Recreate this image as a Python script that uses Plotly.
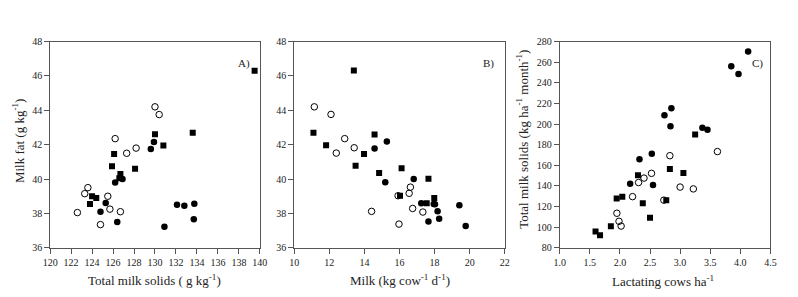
import plotly.graph_objects as go

# ---------------- data ----------------
# Panel A: total milk solids (g/kg) vs milk fat (g/kg)
a_sq_x = [139.5, 130.0, 133.6, 130.8, 126.1, 125.9, 126.7, 128.1, 124.0, 124.4, 123.8, 126.6]
a_sq_y = [46.3, 42.6, 42.7, 41.95, 41.45, 40.75, 40.3, 40.6, 39.0, 38.9, 38.55, 40.05]
a_fc_x = [129.9, 129.6, 126.2, 126.9, 125.3, 124.8, 126.4, 130.9, 132.1, 132.8, 133.75, 133.7]
a_fc_y = [42.16, 41.75, 39.8, 40.0, 38.6, 38.1, 37.5, 37.23, 38.5, 38.44, 38.57, 37.66]
a_oc_x = [130.0, 130.4, 126.2, 128.2, 127.3, 123.6, 123.3, 125.5, 125.7, 126.7, 122.6, 124.8]
a_oc_y = [44.2, 43.75, 42.35, 41.8, 41.5, 39.5, 39.15, 39.0, 38.25, 38.1, 38.05, 37.35]

# Panel B: milk (kg/cow/d) vs milk fat (g/kg)
b_sq_x = [13.4, 11.1, 11.82, 14.58, 13.98, 13.5, 14.84, 16.12, 17.65, 16.03, 17.98, 17.55]
b_sq_y = [46.31, 42.7, 41.96, 42.59, 41.45, 40.78, 40.35, 40.63, 40.02, 39.03, 38.9, 38.59]
b_fc_x = [14.58, 15.28, 15.19, 16.81, 17.24, 18.02, 18.17, 18.26, 17.65, 19.41, 19.77, 17.95]
b_fc_y = [41.77, 42.18, 39.81, 40.0, 38.59, 38.53, 38.12, 37.69, 37.53, 38.47, 37.27, 38.55]
b_oc_x = [11.15, 12.1, 12.88, 13.42, 12.4, 16.62, 16.55, 15.92, 16.75, 17.33, 14.41, 15.97]
b_oc_y = [44.2, 43.76, 42.35, 41.82, 41.51, 39.53, 39.17, 39.03, 38.29, 38.08, 38.12, 37.38]

# Panel C: lactating cows/ha vs total milk solids (kg/ha/month)
c_fc_x = [4.13, 3.85, 3.97, 2.74, 2.855, 2.84, 3.37, 3.455, 2.53, 2.325, 2.17, 2.55]
c_fc_y = [270.4, 256.1, 248.4, 208.4, 215.2, 197.8, 196.3, 194.4, 171.2, 165.9, 142.0, 140.8]
c_sq_x = [3.25, 2.30, 2.83, 3.055, 1.946, 2.04, 2.38, 2.77, 2.50, 1.85, 1.595, 1.67]
c_sq_y = [189.8, 150.4, 156.3, 152.6, 127.8, 129.6, 123.1, 126.2, 109.1, 100.8, 95.8, 92.1]
c_oc_x = [2.83, 3.62, 2.525, 2.40, 2.31, 2.21, 3.0, 3.22, 2.73, 1.95, 1.985, 2.02]
c_oc_y = [169.3, 173.3, 152.2, 147.6, 143.3, 129.6, 138.9, 137.1, 126.2, 113.5, 105.7, 101.1]

a_xticks = list(range(120, 141, 2))
ab_yticks = list(range(36, 49, 2))
b_xticks = list(range(10, 23, 2))
c_xticks = [1.0, 1.5, 2.0, 2.5, 3.0, 3.5, 4.0, 4.5]
c_yticks = list(range(80, 281, 20))

# ---------------- layout helpers ----------------
W, H = 798, 297
def px(x):
    return x / W
def py(y):
    return 1 - y / H

FONT = "Liberation Serif"
sq = dict(symbol="square", size=6, color="black", line=dict(width=0))
fc = dict(symbol="circle", size=6.5, color="black", line=dict(width=0))
oc = dict(symbol="circle-open", size=6.5, color="black", line=dict(width=1))

fig = go.Figure()
def add(x, y, m, xa, ya):
    fig.add_trace(go.Scatter(x=x, y=y, mode="markers", marker=m,
                             xaxis=xa, yaxis=ya, showlegend=False))

add(a_oc_x, a_oc_y, oc, "x", "y")
add(a_sq_x, a_sq_y, sq, "x", "y")
add(a_fc_x, a_fc_y, fc, "x", "y")
add(b_oc_x, b_oc_y, oc, "x2", "y2")
add(b_sq_x, b_sq_y, sq, "x2", "y2")
add(b_fc_x, b_fc_y, fc, "x2", "y2")
add(c_oc_x, c_oc_y, oc, "x3", "y3")
add(c_sq_x, c_sq_y, sq, "x3", "y3")
add(c_fc_x, c_fc_y, fc, "x3", "y3")

ydom = [py(252), py(37)]
axcommon = dict(showgrid=False, zeroline=False, showline=True, mirror=True,
                linecolor="#555", linewidth=1, ticks="outside", ticklen=5,
                tickcolor="#555", tickfont=dict(family=FONT, size=10, color="#222"))

fig.update_layout(
    width=W, height=H, margin=dict(l=0, r=0, t=0, b=0),
    paper_bgcolor="white", plot_bgcolor="white",
    font=dict(family=FONT, color="#222"),
    xaxis=dict(domain=[px(43), px(257)], range=[120, 140], tickvals=a_xticks, anchor="y", **axcommon),
    yaxis=dict(domain=ydom, range=[36, 48], tickvals=ab_yticks, anchor="x", **axcommon),
    xaxis2=dict(domain=[px(292), px(507)], range=[10, 22], tickvals=b_xticks, anchor="y2", **axcommon),
    yaxis2=dict(domain=ydom, range=[36, 48], tickvals=ab_yticks, anchor="x2", **axcommon),
    xaxis3=dict(domain=[px(563), px(778)], range=[1.0, 4.5], tickvals=c_xticks,
                tickformat=".1f", anchor="y3", **axcommon),
    yaxis3=dict(domain=ydom, range=[80, 280], tickvals=c_yticks, anchor="x3", **axcommon),
)

def ann(text, x, y, size=13, angle=0):
    fig.add_annotation(text=text, x=px(x), y=py(y), xref="paper", yref="paper",
                       showarrow=False, textangle=angle, xanchor="center", yanchor="middle",
                       font=dict(family=FONT, size=size, color="#222"))

ann("Total milk solids ( g kg<sup>-1</sup>)", 150, 286)
ann("Milk (kg cow<sup>-1</sup> d<sup>-1</sup>)", 400, 286)
ann("Lactating cows ha<sup>-1</sup>", 668, 287)
ann("Milk fat (g kg<sup>-1</sup>)", 11, 140, angle=-90)
ann("Total milk solids (kg ha<sup>-1</sup> month<sup>-1</sup>)", 525, 139, angle=-90)
ann("A)", 241, 60, size=11)
ann("B)", 490, 60, size=11)
ann("C)", 765, 60, size=11)

fig.write_html("out.html", config={"displayModeBar": False},
               post_script="document.body.style.margin='0px';document.body.style.overflow='hidden';")
